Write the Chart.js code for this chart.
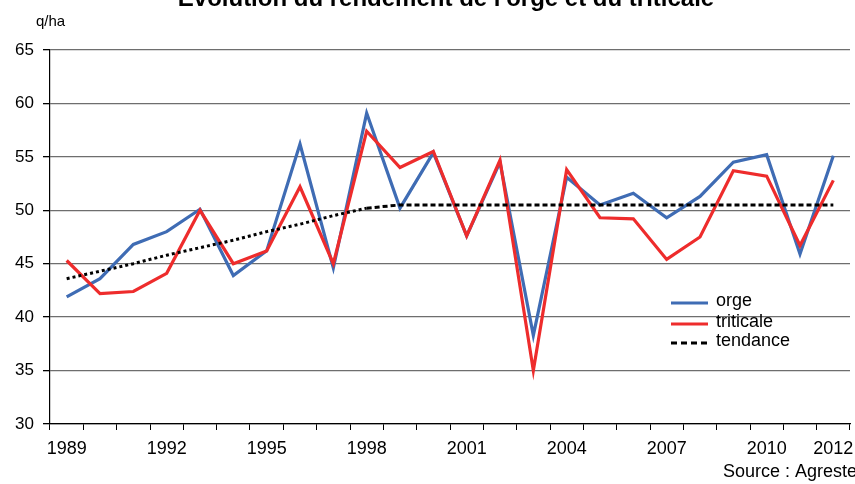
<!DOCTYPE html>
<html>
<head>
<meta charset="utf-8">
<script src="https://cdn.jsdelivr.net/npm/chart.js@4.4.1/dist/chart.umd.min.js"></script>
<style>
  html, body { margin: 0; padding: 0; background: #fff; }
  #wrap { width: 855px; height: 484px; }
</style>
</head>
<body>
<div id="wrap"><canvas id="chart" width="855" height="484"></canvas></div>
<script>
// années 1989 -> 2012
const years = ['1989','1990','1991','1992','1993','1994','1995','1996','1997','1998','1999','2000',
               '2001','2002','2003','2004','2005','2006','2007','2008','2009','2010','2011','2012'];

// rendement (q/ha)
const orge = [41.9, 43.6, 46.8, 48.0, 50.1, 43.9, 46.2, 56.2, 44.6, 59.1, 50.2, 55.4,
              47.6, 54.5, 38.3, 53.1, 50.5, 51.6, 49.3, 51.3, 54.5, 55.2, 45.9, 55.1];
const triticale = [45.3, 42.2, 42.4, 44.1, 50.0, 45.0, 46.2, 52.2, 45.0, 57.4, 54.0, 55.5,
                   47.6, 54.7, 35.0, 53.8, 49.3, 49.2, 45.4, 47.5, 53.7, 53.2, 46.7, 52.8];
const tendance = [43.6, 44.3, 45.0, 45.8, 46.5, 47.2, 48.0, 48.7, 49.5, 50.2, 50.5, 50.5,
                  50.5, 50.5, 50.5, 50.5, 50.5, 50.5, 50.5, 50.5, 50.5, 50.5, 50.5, 50.5];

const yTicks = [30, 35, 40, 45, 50, 55, 60, 65];
const shownYears = ['1989','1992','1995','1998','2001','2004','2007','2010','2012'];

const FONT = '"Liberation Sans", Arial, sans-serif';

const extras = {
  id: 'extras',
  afterDraw(chart) {
    const ctx = chart.ctx;
    ctx.save();
    ctx.fillStyle = '#000';
    // titre (coupé en haut comme sur l'original)
    ctx.font = 'bold 24px ' + FONT;
    ctx.textAlign = 'center';
    ctx.textBaseline = 'alphabetic';
    ctx.fillText("Évolution du rendement de l'orge et du triticale", 446, 6);
    // unité
    ctx.font = '15px ' + FONT;
    ctx.textAlign = 'left';
    ctx.fillText('q/ha', 36, 26);
    // source
    ctx.font = '18px ' + FONT;
    ctx.fillText('Source : Agreste', 723, 477);

    // légende
    const rows = [303, 324, 343];
    ctx.font = '18px ' + FONT;
    chart.data.datasets.forEach((ds, i) => {
      const y = rows[i];
      ctx.strokeStyle = ds.borderColor;
      ctx.lineWidth = 3;
      ctx.setLineDash(ds.legendDash || []);
      ctx.beginPath();
      ctx.moveTo(671, y);
      ctx.lineTo(708, y);
      ctx.stroke();
      ctx.setLineDash([]);
      ctx.fillStyle = '#000';
      ctx.fillText(ds.label, 716, y + 3);
    });
    ctx.restore();
  }
};

new Chart(document.getElementById('chart').getContext('2d'), {
  type: 'line',
  data: {
    labels: years,
    datasets: [
      { label: 'orge', data: orge, borderColor: '#3f6cb4', borderWidth: 3.2,
        pointRadius: 0, tension: 0, order: 2 },
      { label: 'triticale', data: triticale, borderColor: '#ee2c2c', borderWidth: 3.2,
        pointRadius: 0, tension: 0, order: 1 },
      { label: 'tendance', data: tendance, borderColor: '#000', borderWidth: 3,
        pointRadius: 0, tension: 0, order: 0, legendDash: [6, 4],
        segment: { borderDash: c => c.p0DataIndex < 9 ? [3, 3] : [5, 3] } }
    ]
  },
  options: {
    responsive: false,
    animation: false,
    layout: { padding: { top: 50, right: 5, left: 0, bottom: 0 } },
    plugins: { legend: { display: false }, tooltip: { enabled: false }, title: { display: false } },
    scales: {
      x: {
        offset: true,
        grid: { display: true, drawOnChartArea: false, offset: true, tickLength: 6, tickColor: '#000', lineWidth: 1 },
        border: { color: '#000', width: 1.2 },
        ticks: {
          autoSkip: false, maxRotation: 0, padding: 8, color: '#000',
          font: { family: FONT, size: 18 },
          callback: function (v, i) {
            const y = this.getLabelForValue(v);
            return shownYears.includes(y) ? y : '';
          }
        },
        afterFit: s => { s.height = 60; s.paddingLeft = 0; s.paddingRight = 0; }
      },
      y: {
        min: 30, max: 65,
        afterBuildTicks: s => { s.ticks = yTicks.map(v => ({ value: v })); },
        grid: { color: '#6e6e6e', lineWidth: 1.3, tickLength: 7, tickColor: '#000' },
        border: { color: '#000', width: 1.2 },
        ticks: { padding: 9, color: '#000', font: { family: FONT, size: 17 } },
        afterFit: s => { s.width = 50; }
      }
    }
  },
  plugins: [extras]
});
</script>
</body>
</html>
